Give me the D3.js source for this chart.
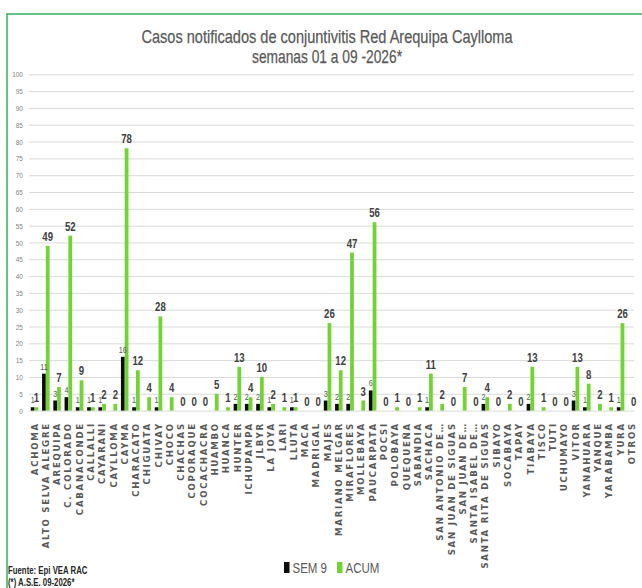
<!DOCTYPE html>
<html>
<head>
<meta charset="utf-8">
<script src="https://cdn.jsdelivr.net/npm/d3@7"></script>
<style>
  html, body { margin: 0; padding: 0; background: #ffffff; }
  svg { display: block; }
  .narrow { font-family: "Liberation Sans Narrow", "Arial Narrow", "Liberation Sans", sans-serif; }
</style>
</head>
<body>
<svg id="chart" width="642" height="588"></svg>
<script>
const categories = ["ACHOMA","ALTO SELVA ALEGRE","AREQUIPA","C. COLORADO","CABANACONDE","CALLALLI","CAYARANI","CAYLLOMA","CAYMA","CHARACATO","CHIGUATA","CHIVAY","CHOCO","CHACHAS","COPORAQUE","COCACHACRA","HUAMBO","HUANCA","HUNTER","ICHUPAMPA","JLBYR","LA JOYA","LARI","LLUTA","MACA","MADRIGAL","MAJES","MARIANO MELGAR","MIRAFLORES","MOLLEBAYA","PAUCARPATA","POCSI","POLOBAYA","QUEQUEÑA","SABANDIA","SACHACA","SAN ANTONIO DE…","SAN JUAN DE SIGUAS","SAN JUAN DE…","SANTA ISABEL DE…","SANTA RITA DE SIGUAS","SIBAYO","SOCABAYA","TAPAY","TIABAYA","TISCO","TUTI","UCHUMAYO","VITOR","YANAHUARA","YANQUE","YARABAMBA","YURA","OTROS"];

const sem9 = [1,11,3,4,1,1,1,null,16,1,null,1,null,null,null,null,null,null,2,2,2,1,null,1,null,null,3,2,2,null,6,null,null,null,null,1,null,null,null,null,2,null,null,null,2,null,null,null,3,1,null,null,1,null];

const acum = [1,49,7,52,9,1,2,2,78,12,4,28,4,0,0,0,5,1,13,4,10,2,1,1,0,0,26,12,47,3,56,0,1,0,1,11,2,0,7,0,4,0,2,0,13,1,0,0,13,8,2,1,26,0];

const yTicks = [0,5,10,15,20,25,30,35,40,45,50,55,60,65,70,75,80,85,90,95,100];

const seriesNames = ["SEM 9", "ACUM"];
const titleLines = ["Casos notificados de conjuntivitis Red Arequipa Caylloma", "semanas 01 a 09 -2026*"];
const footnotes = ["Fuente: Epi VEA RAC", "(*) A.S.E. 09-2026*"];

const colors = { "SEM 9": "#0d0d0d", "ACUM": "#72d334" };

const svg = d3.select("#chart");
const plot = { left: 28.9, right: 637.5, top: 74.3, bottom: 410.6 };

// condense helper: squeeze text horizontally
function condense(sel, factor) {
  sel.each(function () {
    const len = this.getComputedTextLength();
    if (len > 0) {
      d3.select(this).attr("textLength", len * factor).attr("lengthAdjust", "spacingAndGlyphs");
    }
  });
}

// frame
svg.append("rect").attr("x", 7).attr("y", 14).attr("width", 660).attr("height", 600)
  .attr("fill", "none").attr("stroke", "#2fb35a").attr("stroke-width", 1.5);

// title
svg.selectAll("text.title").data(titleLines).join("text")
  .attr("class", "title narrow")
  .attr("x", 327).attr("y", (d, i) => 43 + i * 20)
  .attr("text-anchor", "middle")
  .attr("font-size", 18.5)
  .attr("fill", "#595959")
  .attr("stroke", "#595959").attr("stroke-width", 0.25)
  .attr("textLength", (d, i) => i === 0 ? 371 : 150)
  .attr("lengthAdjust", "spacingAndGlyphs")
  .text(d => d);

const x = d3.scaleBand().domain(categories).range([plot.left, plot.right]).paddingInner(0.33).paddingOuter(0.165);
const xs = d3.scaleBand().domain(seriesNames).range([0, x.bandwidth()]).padding(0);
const y = d3.scaleLinear().domain([0, 100]).range([plot.bottom, plot.top]);

// y axis with gridlines
const yAxis = svg.append("g").attr("transform", `translate(${plot.left},0)`)
  .call(d3.axisLeft(y).tickValues(yTicks).tickSize(-(634 - plot.left)).tickPadding(6));
yAxis.select(".domain").remove();
yAxis.selectAll(".tick line").attr("stroke", "#d9d9d9").attr("stroke-width", 1);
yAxis.selectAll(".tick text").attr("class", "narrow").attr("font-size", 8).attr("fill", "#7f7f7f");
condense(yAxis.selectAll(".tick text"), 0.8);

// x axis labels
const xAxis = svg.append("g").attr("transform", `translate(0,${plot.bottom})`)
  .call(d3.axisBottom(x).tickSize(0));
xAxis.select(".domain").remove();
xAxis.selectAll(".tick text")
  .attr("transform", "rotate(-90)")
  .attr("x", -11.5).attr("y", 0).attr("dy", "0.36em")
  .style("text-anchor", "end")
  .attr("font-family", "'DejaVu Sans', sans-serif")
  .attr("font-weight", "bold")
  .attr("font-size", 8.6)
  .attr("letter-spacing", 1.75)
  .attr("fill", "#595959");

// bars
const rows = categories.map((c, i) => ({ cat: c, vals: [{ s: "SEM 9", v: sem9[i] }, { s: "ACUM", v: acum[i] }] }));
const groups = svg.append("g").selectAll("g").data(rows).join("g")
  .attr("transform", d => `translate(${x(d.cat)},0)`);

groups.selectAll("rect").data(d => d.vals.filter(e => e.v != null && e.v > 0)).join("rect")
  .attr("x", d => xs(d.s))
  .attr("width", xs.bandwidth())
  .attr("y", d => y(d.v))
  .attr("height", d => y(0) - y(d.v))
  .attr("fill", d => colors[d.s]);

// SEM labels
const semLabels = groups.selectAll("text.sem").data(d => d.vals.filter(e => e.s === "SEM 9" && e.v != null)).join("text")
  .attr("class", "sem narrow")
  .attr("x", d => xs(d.s) + xs.bandwidth() / 2)
  .attr("y", d => y(d.v) - 4)
  .attr("text-anchor", "middle")
  .attr("font-size", 9)
  .attr("fill", "#595959")
  .text(d => d.v);
condense(semLabels, 0.8);

// ACUM labels
const acumLabels = groups.selectAll("text.acum").data(d => d.vals.filter(e => e.s === "ACUM" && e.v != null)).join("text")
  .attr("class", "acum narrow")
  .attr("x", d => xs(d.s) + xs.bandwidth() / 2)
  .attr("y", d => y(d.v) - 5)
  .attr("text-anchor", "middle")
  .attr("font-size", 12)
  .attr("font-weight", "bold")
  .attr("fill", "#404040")
  .text(d => d.v);
condense(acumLabels, 0.8);

// legend
const legend = svg.append("g").attr("transform", "translate(284,562)");
const legX = [0, 53];
seriesNames.forEach((s, i) => {
  legend.append("rect").attr("x", legX[i]).attr("y", 0).attr("width", 5.5).attr("height", 11).attr("fill", colors[s]);
  const t = legend.append("text").attr("class", "narrow").attr("x", legX[i] + 8.5).attr("y", 11)
    .attr("font-size", 14).attr("fill", "#595959").text(s);
  condense(t, 0.82);
});

// footnotes
const foot = svg.selectAll("text.foot").data(footnotes).join("text")
  .attr("class", "foot narrow")
  .attr("x", 8).attr("y", (d, i) => 574 + i * 12)
  .attr("font-size", 10).attr("font-weight", "bold").attr("fill", "#262626")
  .text(d => d);
condense(foot, 0.78);
</script>
</body>
</html>
